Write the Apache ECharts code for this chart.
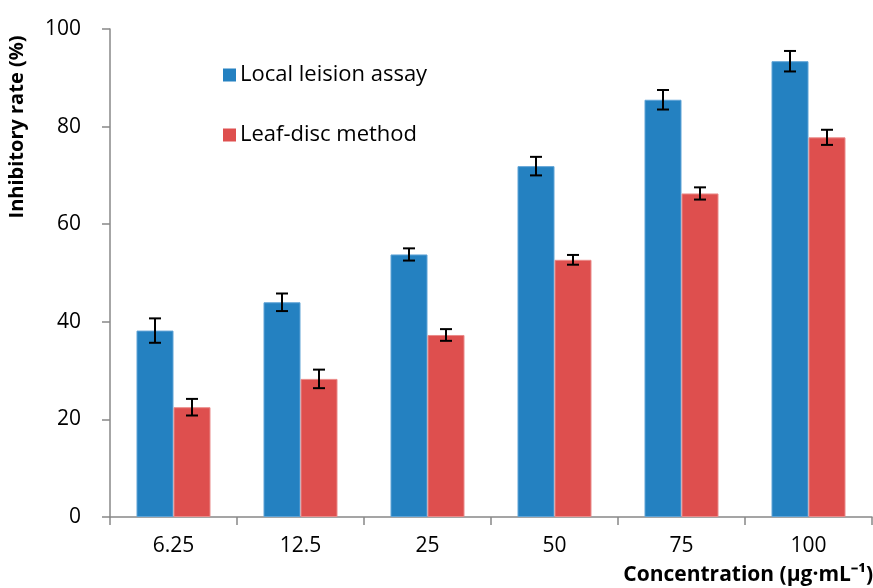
<!DOCTYPE html>
<html>
<head>
<meta charset="utf-8">
<script src="https://cdn.jsdelivr.net/npm/echarts@6/dist/echarts.min.js"></script>
<style>html,body{margin:0;padding:0;background:#fff}#c{width:873px;height:588px}</style>
</head>
<body>
<div id="c"></div>
<script>
const categories = ['6.25', '12.5', '25', '50', '75', '100'];
const localLesion = [38.2, 44.0, 53.8, 71.9, 85.5, 93.4];
const localLesionErr = [2.5, 1.8, 1.25, 1.9, 2.0, 2.1];
const leafDisc = [22.5, 28.3, 37.3, 52.7, 66.3, 77.8];
const leafDiscErr = [1.7, 1.9, 1.2, 1.0, 1.25, 1.55];
const yTicks = [0, 20, 40, 60, 80, 100];

const FONT = '"Open Sans", sans-serif';
const chart = echarts.init(document.getElementById('c'), null, {renderer: 'canvas'});

function errSeries(vals, errs, offset) {
  return {
    type: 'custom',
    z: 10,
    silent: true,
    data: vals.map((v, i) => [i, v - errs[i], v + errs[i]]),
    renderItem: function (params, api) {
      const i = api.value(0);
      const lo = api.coord([i, api.value(1)]);
      const hi = api.coord([i, api.value(2)]);
      const x = lo[0] + offset * 37 / 2;
      const cap = 6;
      const style = {stroke: '#000', lineWidth: 2};
      return {
        type: 'group',
        children: [
          {type: 'line', shape: {x1: x, y1: lo[1], x2: x, y2: hi[1]}, style: style},
          {type: 'line', shape: {x1: x - cap, y1: lo[1], x2: x + cap, y2: lo[1]}, style: style},
          {type: 'line', shape: {x1: x - cap, y1: hi[1], x2: x + cap, y2: hi[1]}, style: style}
        ]
      };
    }
  };
}

chart.setOption({
  animation: false,
  backgroundColor: '#fff',
  grid: {left: 110, right: 1, top: 29, bottom: 71},
  legend: {
    orient: 'vertical',
    left: 218,
    top: 59,
    icon: 'rect',
    itemWidth: 13,
    itemHeight: 13,
    itemGap: 38,
    itemStyle: {borderWidth: 0},
    textStyle: {fontSize: 22, color: '#000', fontFamily: FONT, padding: [0, 0, 0, -1]},
    data: ['Local leision assay', 'Leaf-disc method']
  },
  xAxis: {
    type: 'category',
    data: categories,
    boundaryGap: true,
    axisLine: {lineStyle: {color: '#888', width: 1.5}},
    axisTick: {show: true, length: 8, lineStyle: {color: '#888', width: 1.5}},
    axisLabel: {fontSize: 21, color: '#000', margin: 19, fontFamily: FONT}
  },
  yAxis: {
    type: 'value',
    min: 0, max: 100, interval: 20,
    splitLine: {show: false},
    axisLine: {show: true, lineStyle: {color: '#888', width: 1.5}},
    axisTick: {show: true, length: 8, lineStyle: {color: '#888', width: 1.5}},
    axisLabel: {
      fontSize: 21, color: '#000', margin: 29, fontFamily: FONT,
      formatter: function (v) { return yTicks.indexOf(v) >= 0 ? String(v) : ''; }
    }
  },
  graphic: [
    {
      type: 'text', right: 0, top: 565,
      style: {text: 'Concentration (μg·mL⁻¹)', font: 'bold 21px ' + FONT, fill: '#000'}
    },
    {
      type: 'text', x: 7, y: 127, rotation: Math.PI / 2,
      style: {text: 'Inhibitory rate (%)', font: 'bold 20px ' + FONT, fill: '#000', align: 'center', verticalAlign: 'top'}
    }
  ],
  series: [
    {
      name: 'Local leision assay', type: 'bar', data: localLesion,
      barWidth: 37, barGap: '0%',
      itemStyle: {color: '#2481C1', borderColor: '#5fa3d6', borderWidth: 1}
    },
    {
      name: 'Leaf-disc method', type: 'bar', data: leafDisc,
      barWidth: 37, barGap: '0%',
      itemStyle: {color: '#DE4F4E', borderColor: '#ea8a89', borderWidth: 1}
    },
    errSeries(localLesion, localLesionErr, -1),
    errSeries(leafDisc, leafDiscErr, 1)
  ]
});
</script>
</body>
</html>
